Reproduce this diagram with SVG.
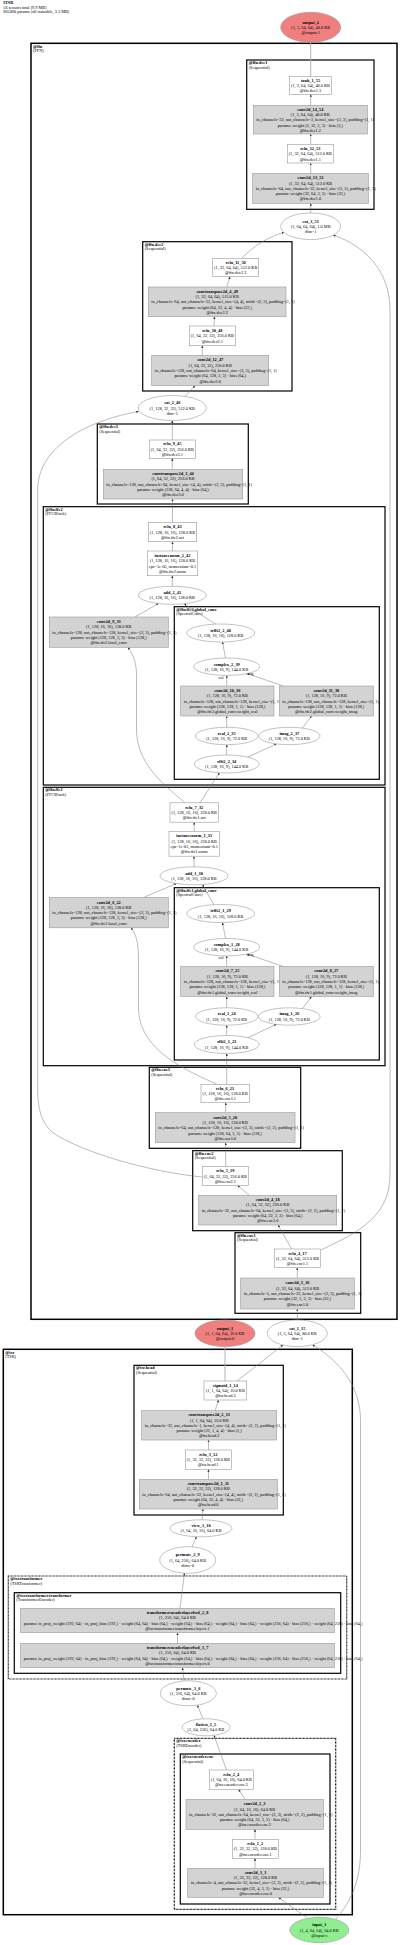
<svg xmlns="http://www.w3.org/2000/svg" width="400" height="1945" viewBox="0 0 400 1945">
<style>
text{font-family:"Liberation Serif","Times New Roman",serif;font-size:4.3px;text-anchor:middle;fill:#000}
.b{font-weight:bold}
.s{text-anchor:start}
.cl text{text-anchor:start}
.n{fill:#fff;stroke:#999;stroke-width:.6}
.g{fill:#d3d3d3;stroke:#999;stroke-width:.6}
.cb{fill:none;stroke:#000;stroke-width:1.2}
.dt{stroke-dasharray:.8 .6}
.ed path{fill:none;stroke:#777;stroke-width:.5;marker-end:url(#a)}
.ed path.o{stroke:#aaa;stroke-width:.9;marker-end:none}
.el{font-size:3.4px}
.hd text{text-anchor:start}
</style>
<defs>
<marker id="a" viewBox="0 0 10 10" refX="10" refY="5" markerWidth="2.4" markerHeight="2.4" markerUnits="userSpaceOnUse" orient="auto"><path d="M0,0 L10,5 L0,10z" fill="#333"/></marker>
</defs>
<rect width="400" height="1945" fill="#fff"/>
<g id="header" class="hd">
<text x="3.3" y="4.2" class="b">ITSR</text>
<text x="3.3" y="8.8">56 tensors total (9.9 MB)</text>
<text x="3.3" y="13.2">865060 params (all trainable, 3.3 MB)</text>
</g>
<g id="clusters" class="cl">
<g id="c_ffn"><rect class="cb" x="31" y="43.3" width="366" height="1276" style="stroke-width:1.5"/><text x="33" y="47.5" class="b">@ffn</text><text x="33" y="52.2">(FFN)</text></g>
<g id="c_ffn_dec1"><rect class="cb" x="246.7" y="60" width="127.3" height="149.3"/><text x="248.7" y="64" class="b">@ffn.dec1</text><text x="248.7" y="68.7">(Sequential)</text></g>
<g id="c_ffn_dec2"><rect class="cb" x="142.7" y="241.7" width="149.3" height="149.3"/><text x="144.7" y="245.7" class="b">@ffn.dec2</text><text x="144.7" y="250.4">(Sequential)</text></g>
<g id="c_ffn_dec3"><rect class="cb" x="97.3" y="424" width="151" height="80"/><text x="99.3" y="428" class="b">@ffn.dec3</text><text x="99.3" y="432.7">(Sequential)</text></g>
<g id="c_ffn_ffc2"><rect class="cb" x="43.3" y="506.7" width="341.7" height="278.3"/><text x="45.3" y="510.7" class="b">@ffn.ffc2</text><text x="45.3" y="515.4">(FFCBlock)</text></g>
<g id="c_ffn_ffc2_gc"><rect class="cb" x="174.3" y="606.7" width="205" height="172.6"/><text x="176.3" y="610.7" class="b">@ffn.ffc2.global_conv</text><text x="176.3" y="615.4">(SpectralConv)</text></g>
<g id="c_ffn_ffc1"><rect class="cb" x="43.3" y="787.3" width="341.7" height="278.4"/><text x="45.3" y="791.3" class="b">@ffn.ffc1</text><text x="45.3" y="796">(FFCBlock)</text></g>
<g id="c_ffn_ffc1_gc"><rect class="cb" x="174.3" y="887.7" width="205" height="172.3"/><text x="176.3" y="891.7" class="b">@ffn.ffc1.global_conv</text><text x="176.3" y="896.4">(SpectralConv)</text></g>
<g id="c_ffn_enc3"><rect class="cb" x="149.3" y="1067.3" width="151.4" height="81"/><text x="151.3" y="1071.3" class="b">@ffn.enc3</text><text x="151.3" y="1076">(Sequential)</text></g>
<g id="c_ffn_enc2"><rect class="cb" x="192.7" y="1150.7" width="149.6" height="80"/><text x="194.7" y="1154.7" class="b">@ffn.enc2</text><text x="194.7" y="1159.4">(Sequential)</text></g>
<g id="c_ffn_enc1"><rect class="cb" x="235" y="1232.7" width="125.7" height="80.6"/><text x="237" y="1236.7" class="b">@ffn.enc1</text><text x="237" y="1241.4">(Sequential)</text></g>
<g id="c_tsr"><rect class="cb" x="3.3" y="1349.3" width="349" height="565.4" style="stroke-width:1.5"/><text x="5.3" y="1353.5" class="b">@tsr</text><text x="5.3" y="1358.2">(TSR)</text></g>
<g id="c_tsr_head"><rect class="cb" x="134" y="1365.3" width="149.3" height="149.7"/><text x="136" y="1369.3" class="b">@tsr.head</text><text x="136" y="1374">(Sequential)</text></g>
<g id="c_tsr_transformer"><rect class="cb dt" x="8.3" y="1576" width="338.4" height="103"/><text x="10.3" y="1580" class="b">@tsr.transformer</text><text x="10.3" y="1584.7">(TSRTransformer)</text></g>
<g id="c_tsr_transformer_transformer"><rect class="cb" x="14.3" y="1592.7" width="326.4" height="80.6"/><text x="16.3" y="1596.7" class="b">@tsr.transformer.transformer</text><text x="16.3" y="1601.4">(TransformerEncoder)</text></g>
<g id="c_tsr_encoder"><rect class="cb dt" x="174.3" y="1738.3" width="161.4" height="171"/><text x="176.3" y="1742.3" class="b">@tsr.encoder</text><text x="176.3" y="1747">(TSREncoder)</text></g>
<g id="c_tsr_encoder_enc"><rect class="cb" x="180.3" y="1754" width="149.7" height="150"/><text x="182.3" y="1758" class="b">@tsr.encoder.enc</text><text x="182.3" y="1762.7">(Sequential)</text></g>
</g>
<g id="edges" class="ed">
<path d="M306.5,1917.5 L278.5,1897.5"/>
<path d="M336,1919 C352,1900 360.5,1880 360.5,1850 L360.5,1420 C360.5,1385 338,1360 312.4,1344.8"/>
<path d="M255,1868.3 L255,1858.3"/>
<path d="M255,1839.3 L255,1829.3"/>
<path d="M245,1799.3 L238.5,1789.3"/>
<path d="M226.5,1770 L214,1735.3"/>
<path d="M203,1718.9 L197.5,1705.3"/>
<path d="M184,1680.8 L182.5,1667.7"/>
<path d="M177.5,1643.3 L177.5,1632.7"/>
<path d="M180,1608.3 L184.5,1573.1"/>
<path d="M192,1546.9 L196.5,1536.6"/>
<path d="M202,1519.8 L203,1509"/>
<path d="M208.5,1479.3 L208.5,1469.3"/>
<path d="M208.5,1450 L208.5,1440"/>
<path d="M215,1410.7 L218.5,1400"/>
<path class="o" d="M225,1381 L225,1346.6"/>
<path d="M237,1381 L283,1345"/>
<path d="M297.3,1320 L297.3,1309"/>
<path d="M297.3,1278 L297.3,1267.7"/>
<path d="M291.5,1249 L278,1225"/>
<path d="M320.7,1250 C360,1232 390,1215 390,1175 L390,310 C390,272 366,246 333.2,235.1"/>
<path d="M249.3,1195.3 L237.5,1185.3"/>
<path d="M225.7,1166.7 L225.7,1142.7"/>
<path d="M202.3,1177 C150,1172 80,1152 52,1132 C41,1122 37.7,1108 37.7,1090 L37.7,490 C37.7,445 90,420 138.7,411.5"/>
<path d="M225.7,1112.7 L225.7,1102.7"/>
<path d="M226.7,1084.3 L226.7,1053.5"/>
<path d="M217,1084.3 C185,1070 140,1050 138.5,1010 L138.5,960 C138.5,942 136,934 131,927.8"/>
<path d="M226.7,1035.5 L226.7,1025.2"/>
<path d="M245,1039 L276.5,1024.3"/>
<path d="M226.7,1007.8 L226.7,996.5"/>
<path d="M302.5,1008.5 L311.5,996.5"/>
<path d="M226.7,966.5 L226.7,955.9"/>
<path d="M283.3,966.5 L247,954"/>
<path d="M225.5,938.5 L222.5,922.5"/>
<path d="M214,905 L202.5,884.5"/>
<path d="M143.5,897.5 L176.5,883.5"/>
<path d="M194,866.8 L194,856.2"/>
<path d="M194.2,831.5 L194.2,822.2"/>
<path d="M200,802.8 L219.5,772.7"/>
<path d="M185,802.8 C160,782 137,762 136.5,730 L136.5,675 C136.5,662 133,655 128,647.3"/>
<path d="M226.7,755 L226.7,744.7"/>
<path d="M245,758.5 L276.5,743.8"/>
<path d="M226.7,727.3 L226.7,716"/>
<path d="M302.5,728 L311.5,716"/>
<path d="M226.7,686 L226.7,675.4"/>
<path d="M283.3,686 L247,673.5"/>
<path d="M225.5,658 L222.5,642"/>
<path d="M216,624.5 L184,603.7"/>
<path d="M135,617 L158.5,603.5"/>
<path d="M172.3,586.3 L172.3,575.7"/>
<path d="M172.5,551 L172.5,541.7"/>
<path d="M172.5,522.3 L172.5,499"/>
<path d="M172.3,469.3 L172.3,458.3"/>
<path d="M172.3,440 L172.3,420.5"/>
<path d="M185,396.4 L195,385.7"/>
<path d="M202.3,355.3 L202.3,345.7"/>
<path d="M214,326 L214.5,316.7"/>
<path d="M226.7,287 L230,276.7"/>
<path d="M241.5,258.3 C255,245 268,237 284,232.3"/>
<path d="M310.7,213 L310.7,203.3"/>
<path d="M310.7,173.3 L310.7,163"/>
<path d="M310.7,144.3 L310.7,134"/>
<path d="M310.7,105.3 L310.7,94.3"/>
<path class="o" d="M310.7,76.7 L310.7,42.3"/>
<text class="el" x="221" y="678.5">real</text>
<text class="el" x="250" y="675.3">imag</text>
<text class="el" x="221" y="959">real</text>
<text class="el" x="250" y="955.8">imag</text>
</g>
<g id="output_2"><ellipse cx="310.7" cy="27.3" rx="30" ry="15" fill="#f08080" stroke="#999" stroke-width=".6"/><text x="310.7" y="23.5" class="b">output_2</text><text x="310.7" y="28.8">(1, 3, 64, 64), 48.0 KB</text><text x="310.7" y="34.1">@output:1</text></g>
<g id="tanh_1_55"><rect class="n" x="289.3" y="76.7" width="42.4" height="17.6"/><text x="310.5" y="81.7" class="b">tanh_1_55</text><text x="310.5" y="87">(1, 3, 64, 64), 48.0 KB</text><text x="310.5" y="92.3">@ffn.dec1.3</text></g>
<g id="conv2d_14_54"><rect class="g" x="253.3" y="105.3" width="114" height="28.7"/><text x="310.3" y="110.6" class="b">conv2d_14_54</text><text x="310.3" y="115.9">(1, 3, 64, 64), 48.0 KB</text><text x="256.3" y="121.2" class="s">in_channels=32, out_channels=3, kernel_size=(3, 3), padding=(1, 1)</text><text x="310.3" y="126.5">params: weight (3, 32, 3, 3) · bias (3,)</text><text x="310.3" y="131.8">@ffn.dec1.2</text></g>
<g id="relu_12_53"><rect class="n" x="287.3" y="144.3" width="46" height="18.7"/><text x="310.3" y="149.9" class="b">relu_12_53</text><text x="310.3" y="155.2">(1, 32, 64, 64), 512.0 KB</text><text x="310.3" y="160.5">@ffn.dec1.1</text></g>
<g id="conv2d_13_52"><rect class="g" x="252.7" y="173.3" width="115.6" height="30"/><text x="310.5" y="179.2" class="b">conv2d_13_52</text><text x="310.5" y="184.5">(1, 32, 64, 64), 512.0 KB</text><text x="255.7" y="189.8" class="s">in_channels=64, out_channels=32, kernel_size=(3, 3), padding=(1, 1)</text><text x="310.5" y="195.1">params: weight (32, 64, 3, 3) · bias (32,)</text><text x="310.5" y="200.4">@ffn.dec1.0</text></g>
<g id="cat_3_51"><ellipse class="n" cx="310.7" cy="226.3" rx="30" ry="13.3"/><text x="310.7" y="222.5" class="b">cat_3_51</text><text x="310.7" y="227.8">(1, 64, 64, 64), 1.0 MB</text><text x="310.7" y="233.1">dim=1</text></g>
<g id="relu_11_50"><rect class="n" x="212.7" y="258.3" width="46" height="18.4"/><text x="235.7" y="263.7" class="b">relu_11_50</text><text x="235.7" y="269">(1, 32, 64, 64), 512.0 KB</text><text x="235.7" y="274.3">@ffn.dec2.3</text></g>
<g id="convtranspose2d_4_49"><rect class="g" x="148.3" y="287" width="137.7" height="29.7"/><text x="217.2" y="292.8" class="b">convtranspose2d_4_49</text><text x="217.2" y="298.1">(1, 32, 64, 64), 512.0 KB</text><text x="151.3" y="303.4" class="s">in_channels=64, out_channels=32, kernel_size=(4, 4), stride=(2, 2), padding=(1, 1)</text><text x="217.2" y="308.7">params: weight (64, 32, 4, 4) · bias (32,)</text><text x="217.2" y="314">@ffn.dec2.2</text></g>
<g id="relu_10_48"><rect class="n" x="189.3" y="326" width="46" height="19.7"/><text x="212.3" y="332" class="b">relu_10_48</text><text x="212.3" y="337.3">(1, 64, 32, 32), 256.0 KB</text><text x="212.3" y="342.6">@ffn.dec2.1</text></g>
<g id="conv2d_12_47"><rect class="g" x="151.7" y="355.3" width="117" height="30.4"/><text x="210.2" y="361.4" class="b">conv2d_12_47</text><text x="210.2" y="366.7">(1, 64, 32, 32), 256.0 KB</text><text x="154.7" y="372" class="s">in_channels=128, out_channels=64, kernel_size=(3, 3), padding=(1, 1)</text><text x="210.2" y="377.3">params: weight (64, 128, 3, 3) · bias (64,)</text><text x="210.2" y="382.6">@ffn.dec2.0</text></g>
<g id="cat_2_46"><ellipse class="n" cx="172.3" cy="408" rx="34" ry="12.5"/><text x="172.3" y="404.2" class="b">cat_2_46</text><text x="172.3" y="409.5">(1, 128, 32, 32), 512.0 KB</text><text x="172.3" y="414.8">dim=1</text></g>
<g id="relu_9_45"><rect class="n" x="149.3" y="440" width="46" height="18.3"/><text x="172.3" y="445.4" class="b">relu_9_45</text><text x="172.3" y="450.7">(1, 64, 32, 32), 256.0 KB</text><text x="172.3" y="456">@ffn.dec3.1</text></g>
<g id="convtranspose2d_3_44"><rect class="g" x="103.3" y="469.3" width="139.4" height="29.7"/><text x="173" y="475.1" class="b">convtranspose2d_3_44</text><text x="173" y="480.4">(1, 64, 32, 32), 256.0 KB</text><text x="106.3" y="485.7" class="s">in_channels=128, out_channels=64, kernel_size=(4, 4), stride=(2, 2), padding=(1, 1)</text><text x="173" y="491">params: weight (128, 64, 4, 4) · bias (64,)</text><text x="173" y="496.3">@ffn.dec3.0</text></g>
<g id="relu_8_43"><rect class="n" x="148.3" y="522.3" width="48.4" height="19.4"/><text x="172.5" y="528.2" class="b">relu_8_43</text><text x="172.5" y="533.5">(1, 128, 16, 16), 128.0 KB</text><text x="172.5" y="538.8">@ffn.ffc2.act</text></g>
<g id="instancenorm_2_42"><rect class="n" x="147.3" y="551" width="50.4" height="24.7"/><text x="172.5" y="556.9" class="b">instancenorm_2_42</text><text x="172.5" y="562.2">(1, 128, 16, 16), 128.0 KB</text><text x="172.5" y="567.5">eps=1e-05, momentum=0.1</text><text x="172.5" y="572.8">@ffn.ffc2.norm</text></g>
<g id="add_2_41"><ellipse class="n" cx="172.3" cy="595.3" rx="34" ry="9"/><text x="172.3" y="594.15" class="b">add_2_41</text><text x="172.3" y="599.45">(1, 128, 16, 16), 128.0 KB</text></g>
<g id="conv2d_9_33"><rect class="g" x="49.3" y="617" width="119" height="30.3"/><text x="108.8" y="623.05" class="b">conv2d_9_33</text><text x="108.8" y="628.35">(1, 128, 16, 16), 128.0 KB</text><text x="52.3" y="633.65" class="s">in_channels=128, out_channels=128, kernel_size=(3, 3), padding=(1, 1)</text><text x="108.8" y="638.95">params: weight (128, 128, 3, 3) · bias (128,)</text><text x="108.8" y="644.25">@ffn.ffc2.local_conv</text></g>
<g id="irfft2_2_40"><ellipse class="n" cx="220.7" cy="633" rx="34" ry="9"/><text x="220.7" y="631.85" class="b">irfft2_2_40</text><text x="220.7" y="637.15">(1, 128, 16, 16), 128.0 KB</text></g>
<g id="complex_2_39"><ellipse class="n" cx="226.7" cy="666.7" rx="33" ry="8.7"/><text x="226.7" y="665.55" class="b">complex_2_39</text><text x="226.7" y="670.85">(1, 128, 16, 9), 144.0 KB</text></g>
<g id="conv2d_10_36"><rect class="g" x="180.7" y="686" width="93.3" height="30"/><text x="227.35" y="691.9" class="b">conv2d_10_36</text><text x="227.35" y="697.2">(1, 128, 16, 9), 72.0 KB</text><text x="183.7" y="702.5" class="s">in_channels=128, out_channels=128, kernel_size=(1, 1)</text><text x="227.35" y="707.8">params: weight (128, 128, 1, 1) · bias (128,)</text><text x="227.35" y="713.1">@ffn.ffc2.global_conv.weight_real</text></g>
<g id="conv2d_11_38"><rect class="g" x="279.3" y="686" width="94" height="30"/><text x="326.3" y="691.9" class="b">conv2d_11_38</text><text x="326.3" y="697.2">(1, 128, 16, 9), 72.0 KB</text><text x="282.3" y="702.5" class="s">in_channels=128, out_channels=128, kernel_size=(1, 1)</text><text x="326.3" y="707.8">params: weight (128, 128, 1, 1) · bias (128,)</text><text x="326.3" y="713.1">@ffn.ffc2.global_conv.weight_imag</text></g>
<g id="real_2_35"><ellipse class="n" cx="226.7" cy="736" rx="31.3" ry="8.7"/><text x="226.7" y="734.85" class="b">real_2_35</text><text x="226.7" y="740.15">(1, 128, 16, 9), 72.0 KB</text></g>
<g id="imag_2_37"><ellipse class="n" cx="289.3" cy="736" rx="30.8" ry="8.7"/><text x="289.3" y="734.85" class="b">imag_2_37</text><text x="289.3" y="740.15">(1, 128, 16, 9), 72.0 KB</text></g>
<g id="rfft2_2_34"><ellipse class="n" cx="226.7" cy="764" rx="32.5" ry="9"/><text x="226.7" y="762.85" class="b">rfft2_2_34</text><text x="226.7" y="768.15">(1, 128, 16, 9), 144.0 KB</text></g>
<g id="relu_7_32"><rect class="n" x="170" y="802.8" width="48.4" height="19.4"/><text x="194.2" y="808.7" class="b">relu_7_32</text><text x="194.2" y="814">(1, 128, 16, 16), 128.0 KB</text><text x="194.2" y="819.3">@ffn.ffc1.act</text></g>
<g id="instancenorm_1_31"><rect class="n" x="169" y="831.5" width="50.4" height="24.7"/><text x="194.2" y="837.4" class="b">instancenorm_1_31</text><text x="194.2" y="842.7">(1, 128, 16, 16), 128.0 KB</text><text x="194.2" y="848">eps=1e-05, momentum=0.1</text><text x="194.2" y="853.3">@ffn.ffc1.norm</text></g>
<g id="add_1_30"><ellipse class="n" cx="194" cy="875.8" rx="34" ry="9"/><text x="194" y="874.65" class="b">add_1_30</text><text x="194" y="879.95">(1, 128, 16, 16), 128.0 KB</text></g>
<g id="conv2d_6_22"><rect class="g" x="49.3" y="897.5" width="119" height="30.3"/><text x="108.8" y="903.55" class="b">conv2d_6_22</text><text x="108.8" y="908.85">(1, 128, 16, 16), 128.0 KB</text><text x="52.3" y="914.15" class="s">in_channels=128, out_channels=128, kernel_size=(3, 3), padding=(1, 1)</text><text x="108.8" y="919.45">params: weight (128, 128, 3, 3) · bias (128,)</text><text x="108.8" y="924.75">@ffn.ffc1.local_conv</text></g>
<g id="irfft2_1_29"><ellipse class="n" cx="220.7" cy="913.5" rx="34" ry="9"/><text x="220.7" y="912.35" class="b">irfft2_1_29</text><text x="220.7" y="917.65">(1, 128, 16, 16), 128.0 KB</text></g>
<g id="complex_1_28"><ellipse class="n" cx="226.7" cy="947.2" rx="33" ry="8.7"/><text x="226.7" y="946.05" class="b">complex_1_28</text><text x="226.7" y="951.35">(1, 128, 16, 9), 144.0 KB</text></g>
<g id="conv2d_7_25"><rect class="g" x="180.7" y="966.5" width="93.3" height="30"/><text x="227.35" y="972.4" class="b">conv2d_7_25</text><text x="227.35" y="977.7">(1, 128, 16, 9), 72.0 KB</text><text x="183.7" y="983" class="s">in_channels=128, out_channels=128, kernel_size=(1, 1)</text><text x="227.35" y="988.3">params: weight (128, 128, 1, 1) · bias (128,)</text><text x="227.35" y="993.6">@ffn.ffc1.global_conv.weight_real</text></g>
<g id="conv2d_8_27"><rect class="g" x="279.3" y="966.5" width="94" height="30"/><text x="326.3" y="972.4" class="b">conv2d_8_27</text><text x="326.3" y="977.7">(1, 128, 16, 9), 72.0 KB</text><text x="282.3" y="983" class="s">in_channels=128, out_channels=128, kernel_size=(1, 1)</text><text x="326.3" y="988.3">params: weight (128, 128, 1, 1) · bias (128,)</text><text x="326.3" y="993.6">@ffn.ffc1.global_conv.weight_imag</text></g>
<g id="real_1_24"><ellipse class="n" cx="226.7" cy="1016.5" rx="31.3" ry="8.7"/><text x="226.7" y="1015.35" class="b">real_1_24</text><text x="226.7" y="1020.65">(1, 128, 16, 9), 72.0 KB</text></g>
<g id="imag_1_26"><ellipse class="n" cx="289.3" cy="1016.5" rx="30.8" ry="8.7"/><text x="289.3" y="1015.35" class="b">imag_1_26</text><text x="289.3" y="1020.65">(1, 128, 16, 9), 72.0 KB</text></g>
<g id="rfft2_1_23"><ellipse class="n" cx="226.7" cy="1044.5" rx="32.5" ry="9"/><text x="226.7" y="1043.35" class="b">rfft2_1_23</text><text x="226.7" y="1048.65">(1, 128, 16, 9), 144.0 KB</text></g>
<g id="relu_6_21"><rect class="n" x="201" y="1084.3" width="48.3" height="18.4"/><text x="225.15" y="1089.7" class="b">relu_6_21</text><text x="225.15" y="1095">(1, 128, 16, 16), 128.0 KB</text><text x="225.15" y="1100.3">@ffn.enc3.1</text></g>
<g id="conv2d_5_20"><rect class="g" x="155.3" y="1112.7" width="139.7" height="30"/><text x="225.15" y="1118.6" class="b">conv2d_5_20</text><text x="225.15" y="1123.9">(1, 128, 16, 16), 128.0 KB</text><text x="158.3" y="1129.2" class="s">in_channels=64, out_channels=128, kernel_size=(3, 3), stride=(2, 2), padding=(1, 1)</text><text x="225.15" y="1134.5">params: weight (128, 64, 3, 3) · bias (128,)</text><text x="225.15" y="1139.8">@ffn.enc3.0</text></g>
<g id="relu_5_19"><rect class="n" x="202.3" y="1166.7" width="46" height="18.6"/><text x="225.3" y="1172.2" class="b">relu_5_19</text><text x="225.3" y="1177.5">(1, 64, 32, 32), 256.0 KB</text><text x="225.3" y="1182.8">@ffn.enc2.1</text></g>
<g id="conv2d_4_18"><rect class="g" x="198.7" y="1195.3" width="138" height="29.7"/><text x="267.7" y="1201.05" class="b">conv2d_4_18</text><text x="267.7" y="1206.35">(1, 64, 32, 32), 256.0 KB</text><text x="201.7" y="1211.65" class="s">in_channels=32, out_channels=64, kernel_size=(3, 3), stride=(2, 2), padding=(1, 1)</text><text x="267.7" y="1216.95">params: weight (64, 32, 3, 3) · bias (64,)</text><text x="267.7" y="1222.25">@ffn.enc2.0</text></g>
<g id="relu_4_17"><rect class="n" x="274.3" y="1249" width="46.4" height="18.7"/><text x="297.5" y="1254.55" class="b">relu_4_17</text><text x="297.5" y="1259.85">(1, 32, 64, 64), 512.0 KB</text><text x="297.5" y="1265.15">@ffn.enc1.1</text></g>
<g id="conv2d_3_16"><rect class="g" x="240.7" y="1278" width="113.6" height="31"/><text x="297.5" y="1284.4" class="b">conv2d_3_16</text><text x="297.5" y="1289.7">(1, 32, 64, 64), 512.0 KB</text><text x="243.7" y="1295" class="s">in_channels=5, out_channels=32, kernel_size=(3, 3), padding=(1, 1)</text><text x="297.5" y="1300.3">params: weight (32, 5, 3, 3) · bias (32,)</text><text x="297.5" y="1305.6">@ffn.enc1.0</text></g>
<g id="output_1"><ellipse cx="225" cy="1333.3" rx="30" ry="13.3" fill="#f08080" stroke="#999" stroke-width=".6"/><text x="225" y="1329.5" class="b">output_1</text><text x="225" y="1334.8">(1, 1, 64, 64), 16.0 KB</text><text x="225" y="1340.1">@output:0</text></g>
<g id="cat_1_15"><ellipse class="n" cx="297.3" cy="1333.3" rx="30" ry="13.3"/><text x="297.3" y="1329.5" class="b">cat_1_15</text><text x="297.3" y="1334.8">(1, 5, 64, 64), 80.0 KB</text><text x="297.3" y="1340.1">dim=1</text></g>
<g id="sigmoid_1_14"><rect class="n" x="204" y="1381" width="42.7" height="19"/><text x="225.35" y="1386.7" class="b">sigmoid_1_14</text><text x="225.35" y="1392">(1, 1, 64, 64), 16.0 KB</text><text x="225.35" y="1397.3">@tsr.head.3</text></g>
<g id="convtranspose2d_2_13"><rect class="g" x="141.7" y="1410.7" width="135" height="29.3"/><text x="209.2" y="1416.25" class="b">convtranspose2d_2_13</text><text x="209.2" y="1421.55">(1, 1, 64, 64), 16.0 KB</text><text x="144.7" y="1426.85" class="s">in_channels=32, out_channels=1, kernel_size=(4, 4), stride=(2, 2), padding=(1, 1)</text><text x="209.2" y="1432.15">params: weight (32, 1, 4, 4) · bias (1,)</text><text x="209.2" y="1437.45">@tsr.head.2</text></g>
<g id="relu_3_12"><rect class="n" x="185.3" y="1450" width="46" height="19.3"/><text x="208.3" y="1455.85" class="b">relu_3_12</text><text x="208.3" y="1461.15">(1, 32, 32, 32), 128.0 KB</text><text x="208.3" y="1466.45">@tsr.head.1</text></g>
<g id="convtranspose2d_1_11"><rect class="g" x="139.3" y="1479.3" width="138" height="29.7"/><text x="208.3" y="1485.05" class="b">convtranspose2d_1_11</text><text x="208.3" y="1490.35">(1, 32, 32, 32), 128.0 KB</text><text x="142.3" y="1495.65" class="s">in_channels=64, out_channels=32, kernel_size=(4, 4), stride=(2, 2), padding=(1, 1)</text><text x="208.3" y="1500.95">params: weight (64, 32, 4, 4) · bias (32,)</text><text x="208.3" y="1506.25">@tsr.head.0</text></g>
<g id="view_1_10"><ellipse class="n" cx="201" cy="1528.3" rx="31" ry="8.5"/><text x="201" y="1527.15" class="b">view_1_10</text><text x="201" y="1532.45">(1, 64, 16, 16), 64.0 KB</text></g>
<g id="permute_2_9"><ellipse class="n" cx="187.7" cy="1560" rx="28" ry="13.3"/><text x="187.7" y="1556.2" class="b">permute_2_9</text><text x="187.7" y="1561.5">(1, 64, 256), 64.0 KB</text><text x="187.7" y="1566.8">dims=0</text></g>
<g id="transformerencoderlayerfwd_2_8"><rect class="g" x="20.7" y="1608.3" width="313.6" height="24.4"/><text x="177.5" y="1614.05" class="b">transformerencoderlayerfwd_2_8</text><text x="177.5" y="1619.35">(1, 256, 64), 64.0 KB</text><text x="23.7" y="1624.65" class="s">params: in_proj_weight (192, 64) · in_proj_bias (192,) · weight (64, 64) · bias (64,) · weight (64,) · bias (64,) · weight (64,) · bias (64,) · weight (256, 64) · bias (256,) · weight (64, 256) · bias (64,)</text><text x="177.5" y="1629.95">@tsr.transformer.transformer.layers.1</text></g>
<g id="transformerencoderlayerfwd_1_7"><rect class="g" x="20.7" y="1643.3" width="313.6" height="24.4"/><text x="177.5" y="1649.05" class="b">transformerencoderlayerfwd_1_7</text><text x="177.5" y="1654.35">(1, 256, 64), 64.0 KB</text><text x="23.7" y="1659.65" class="s">params: in_proj_weight (192, 64) · in_proj_bias (192,) · weight (64, 64) · bias (64,) · weight (64,) · bias (64,) · weight (64,) · bias (64,) · weight (256, 64) · bias (256,) · weight (64, 256) · bias (64,)</text><text x="177.5" y="1664.95">@tsr.transformer.transformer.layers.0</text></g>
<g id="permute_1_6"><ellipse class="n" cx="188.3" cy="1693.3" rx="28" ry="12.5"/><text x="188.3" y="1689.5" class="b">permute_1_6</text><text x="188.3" y="1694.8">(1, 256, 64), 64.0 KB</text><text x="188.3" y="1700.1">dims=0</text></g>
<g id="flatten_1_5"><ellipse class="n" cx="206" cy="1727.3" rx="24" ry="8.5"/><text x="206" y="1726.15" class="b">flatten_1_5</text><text x="206" y="1731.45">(1, 64, 256), 64.0 KB</text></g>
<g id="relu_2_4"><rect class="n" x="209.3" y="1770" width="44" height="19.3"/><text x="231.3" y="1775.85" class="b">relu_2_4</text><text x="231.3" y="1781.15">(1, 64, 16, 16), 64.0 KB</text><text x="231.3" y="1786.45">@tsr.encoder.enc.3</text></g>
<g id="conv2d_2_3"><rect class="g" x="186" y="1799.3" width="137.3" height="30"/><text x="254.65" y="1805.2" class="b">conv2d_2_3</text><text x="254.65" y="1810.5">(1, 64, 16, 16), 64.0 KB</text><text x="189" y="1815.8" class="s">in_channels=32, out_channels=64, kernel_size=(3, 3), stride=(2, 2), padding=(1, 1)</text><text x="254.65" y="1821.1">params: weight (64, 32, 3, 3) · bias (64,)</text><text x="254.65" y="1826.4">@tsr.encoder.enc.2</text></g>
<g id="relu_1_2"><rect class="n" x="232.3" y="1839.3" width="46" height="19"/><text x="255.3" y="1845" class="b">relu_1_2</text><text x="255.3" y="1850.3">(1, 32, 32, 32), 128.0 KB</text><text x="255.3" y="1855.6">@tsr.encoder.enc.1</text></g>
<g id="conv2d_1_1"><rect class="g" x="187.7" y="1868.3" width="135.6" height="29"/><text x="255.5" y="1873.7" class="b">conv2d_1_1</text><text x="255.5" y="1879">(1, 32, 32, 32), 128.0 KB</text><text x="190.7" y="1884.3" class="s">in_channels=4, out_channels=32, kernel_size=(3, 3), stride=(2, 2), padding=(1, 1)</text><text x="255.5" y="1889.6">params: weight (32, 4, 3, 3) · bias (32,)</text><text x="255.5" y="1894.9">@tsr.encoder.enc.0</text></g>
<g id="input_1"><ellipse cx="319.3" cy="1930" rx="29.5" ry="12.7" fill="#90ee90" stroke="#999" stroke-width=".6"/><text x="319.3" y="1926.2" class="b">input_1</text><text x="319.3" y="1931.5">(1, 4, 64, 64), 64.0 KB</text><text x="319.3" y="1936.8">@input:x</text></g>
</svg>
